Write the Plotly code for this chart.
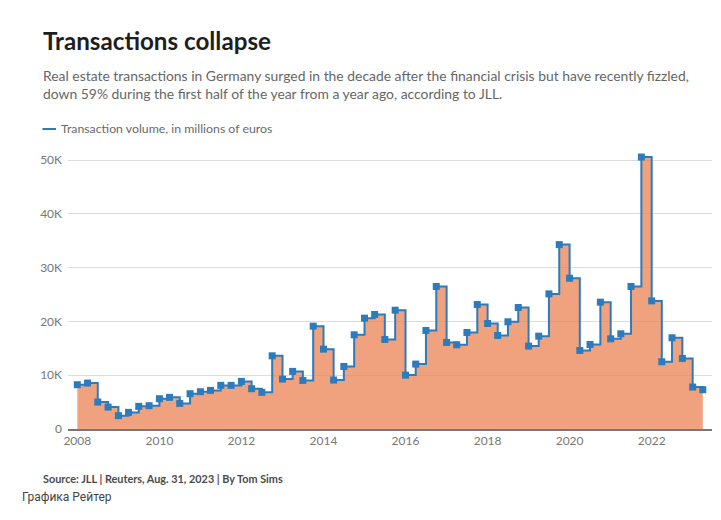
import plotly.graph_objects as go
import pandas as pd

# Quarterly transaction volume, millions of euros (2008 Q1 - 2023 Q2)
start_quarter = "2008-01-01"
volume = [8230, 8540, 5010, 4080, 2480, 3090, 4210, 4330, 5630, 5880,
          4760, 6560, 6930, 7180, 8110, 8110, 8850, 7490, 6810, 13610,
          9280, 10710, 9030, 19120, 14850, 9100, 11630, 17510, 20610, 21290,
          16650, 22090, 10020, 12070, 18320, 26490, 16090, 15660, 17950, 23140,
          19620, 17390, 19930, 22590, 15410, 17260, 25120, 34280, 28030, 14600,
          15720, 23580, 16770, 17700, 26490, 50560, 23820, 12500, 16960, 13120,
          7800, 7300]
quarters = pd.date_range(start_quarter, periods=len(volume), freq="QS")

y_tickvals = [0, 10000, 20000, 30000, 40000, 50000]
y_ticktext = ["0", "10K", "20K", "30K", "40K", "50K"]
x_tickvals = ["2008-01-01", "2010-01-01", "2012-01-01", "2014-01-01",
              "2016-01-01", "2018-01-01", "2020-01-01", "2022-01-01"]
x_ticktext = ["2008", "2010", "2012", "2014", "2016", "2018", "2020", "2022"]

title = "Transactions collapse"
subtitle_1 = "Real estate transactions in Germany surged in the decade after the financial crisis but have recently fizzled,"
subtitle_2 = "down 59% during the first half of the year from a year ago, according to JLL."
legend_label = "Transaction volume, in millions of euros"
source = "Source: JLL | Reuters, Aug. 31, 2023 | By Tom Sims"
credit = "Графика Рейтер"

OFF = 8  # page body margin
W, H = 721 - OFF, 520 - OFF
L, R, T, B = 68 - OFF, 9, 152 - OFF, 91
PW, PH = W - L - R, H - T - B

def px(x):
    return (x - OFF - L) / PW

def py(y):
    return (H - B - (y - OFF)) / PH

FONT = "Lato, 'Open Sans', sans-serif"
BLUE = "#2c7bbd"

fig = go.Figure()
fig.add_trace(go.Scatter(
    x=quarters, y=volume, mode="lines+markers",
    line=dict(shape="hv", color=BLUE, width=2),
    marker=dict(symbol="square", size=7, color=BLUE),
    fill="tozeroy", fillcolor="rgba(233,130,80,0.74)",
    name=legend_label, showlegend=False, hoverinfo="x+y",
))

ann = []
def add_text(text, x, y, size, color, bold=False, family=FONT):
    ann.append(dict(text=f"<b>{text}</b>" if bold else text,
                    x=px(x), y=py(y), xref="paper", yref="paper",
                    xanchor="left", yanchor="middle", showarrow=False,
                    font=dict(family=family, size=size, color=color)))

add_text(title, 41, 40, 24.2, "#1e1e1e", bold=True)
add_text(subtitle_1, 41, 75, 13.9, "#666666")
add_text(subtitle_2, 41, 93, 13.9, "#666666")
add_text(legend_label, 59, 129, 12.3, "#6a6a6a")
add_text(source, 41, 478, 10.85, "#4a4a4a", bold=True)
add_text(credit, 20, 497, 12, "#444444", family="Roboto, sans-serif")

fig.update_layout(
    width=W, height=H,
    margin=dict(l=L, r=R, t=T, b=B, pad=0),
    paper_bgcolor="white", plot_bgcolor="white",
    font=dict(family=FONT, color="#777777", size=12),
    annotations=ann,
    shapes=[dict(type="line", xref="paper", yref="paper",
                 x0=px(42.5), x1=px(56), y0=py(129), y1=py(129),
                 line=dict(color=BLUE, width=2))],
    xaxis=dict(range=["2007-10-10", "2023-06-22"], showgrid=False,
               tickvals=x_tickvals, ticktext=x_ticktext,
               ticks="", showline=True, linecolor="#777777", linewidth=1.5,
               tickfont=dict(size=12, color="#777777"), zeroline=False),
    yaxis=dict(range=[0, 51500], tickvals=y_tickvals, ticktext=y_ticktext,
               showgrid=True, gridcolor="#dddddd", gridwidth=1,
               zeroline=False, showline=False, ticks="",
               ticklabelstandoff=5,
               tickfont=dict(size=12, color="#777777")),
    hovermode="x",
)

fig.write_html("out.html")
